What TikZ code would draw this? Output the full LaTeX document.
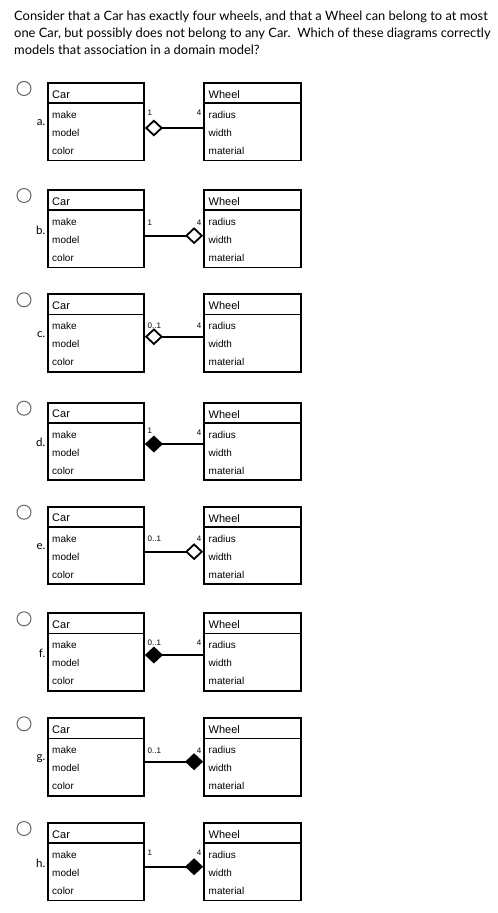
\documentclass[tikz,border=0pt]{standalone}
\usepackage{fontspec}
\setmainfont{Liberation Sans}
\newfontfamily\latofont{Lato}
\usetikzlibrary{arrows.meta,calc}
\begin{document}
\begin{tikzpicture}[x=1pt,y=-1pt,
  classbox/.style={draw=black,line width=1.8pt,inner sep=0pt},
  hdr/.style={anchor=west,inner sep=0pt,font=\fontsize{11}{13}\selectfont},
  attr/.style={anchor=west,inner sep=0pt,font=\fontsize{10}{12}\selectfont},
  mult/.style={inner sep=0pt,font=\fontsize{8}{9}\selectfont},
  radio/.style={draw=black!60,line width=1pt,circle,minimum size=14pt,inner sep=0pt},
  optlab/.style={anchor=east,inner sep=0pt,font=\latofont\fontsize{11.5}{13}\selectfont},
  question/.style={anchor=base west,inner sep=0pt,font=\latofont\fontsize{12.9}{15}\selectfont},
  conn/.style={line width=1.8pt},
  caropen/.style={arrows={Diamond[open,length=18pt,width=17pt]}-},
  carfill/.style={arrows={Diamond[length=18pt,width=17pt]}-},
  wheelopen/.style={arrows=-{Diamond[open,length=18pt,width=17pt]}},
  wheelfill/.style={arrows=-{Diamond[length=18pt,width=17pt]}}
]
\useasboundingbox (0,0) rectangle (498,913);
\node[question] (q1) at (14,20) {Consider that a Car has exactly four wheels, and that a Wheel can belong to at most};
\node[question] (q2) at (14,37) {one Car, but possibly does not belong to any Car.\ \ Which of these diagrams correctly};
\node[question] (q3) at (14,54) {models that association in a domain model?};
\foreach \id/\top/\ly/\ml/\mly/\mry/\side/\kind in {
  a/83/128/1/30/30/car/open,
  b/190/235.7/1/33/33/wheel/open,
  c/294.3/336.7/0..1/31/31/car/open,
  d/402.7/444/1/28/30/car/fill,
  e/506.7/551.7/0..1/32/32/wheel/open,
  f/613.3/655/0..1/29/29/car/fill,
  g/718.3/761.7/0..1/32/32/wheel/fill,
  h/823/866.7/1/30/30/wheel/fill}{
  \node[radio] (r-\id) at (24,\top+5.5) {};
  \node[optlab] (l-\id) at (45.5,\top+40) {\id.};
  \node[classbox,minimum width=96pt,minimum height=77.5pt] (car-\id) at (96,\top+38.75) {};
  \node[classbox,minimum width=97pt,minimum height=77.5pt] (wheel-\id) at (252.5,\top+38.75) {};
  \draw[line width=1.4pt] ($(car-\id.north west)+(0,21)$) -- ($(car-\id.north east)+(0,21)$);
  \draw[line width=1.4pt] ($(wheel-\id.north west)+(0,21)$) -- ($(wheel-\id.north east)+(0,21)$);
  \node[hdr] (cn-\id) at (52,\top+11.5) {Car};
  \node[attr] (c1-\id) at (52,\top+32) {make};
  \node[attr] (c2-\id) at (52,\top+50) {model};
  \node[attr] (c3-\id) at (52,\top+68) {color};
  \node[hdr] (wn-\id) at (208.5,\top+11.5) {Wheel};
  \node[attr] (w1-\id) at (208.5,\top+32) {radius};
  \node[attr] (w2-\id) at (208.5,\top+50) {width};
  \node[attr] (w3-\id) at (208.5,\top+68) {material};
  \node[mult,anchor=west] (ml-\id) at (147.5,\top+\mly) {\ml};
  \node[mult,anchor=east] (mr-\id) at (201.5,\top+\mry) {4};
  \draw[conn,\side\kind] (car-\id.east |- 0,\ly) -- (wheel-\id.west |- 0,\ly);
}
\end{tikzpicture}
\end{document}
